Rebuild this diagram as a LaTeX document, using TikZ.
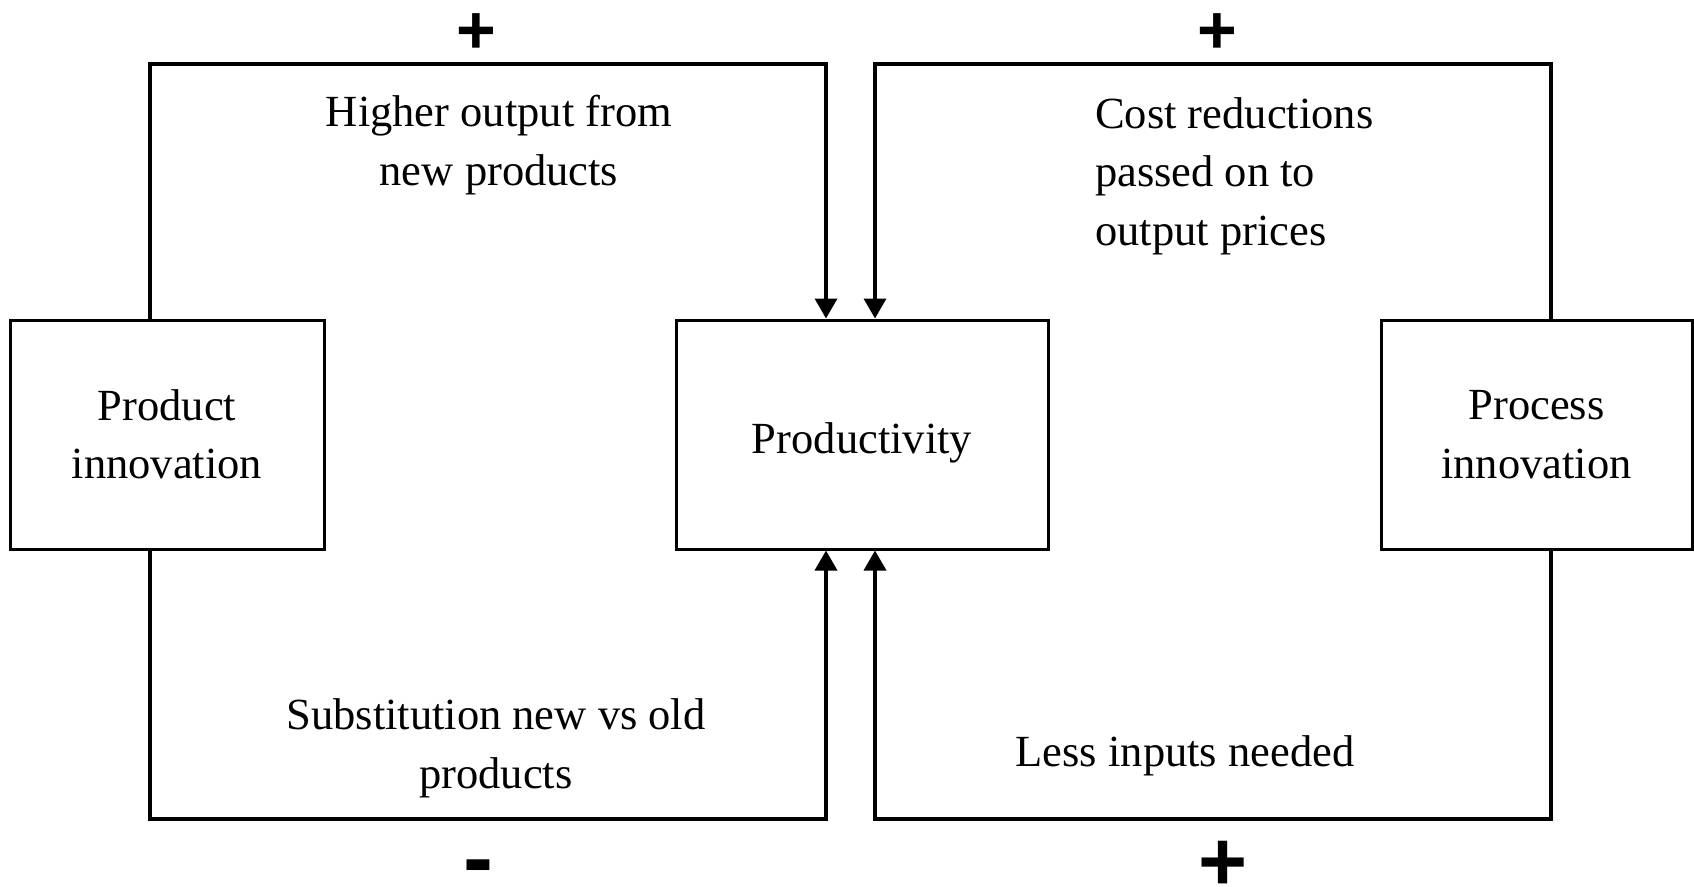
\documentclass[tikz,border=0pt]{standalone}
\usepackage{fontspec}
\setmainfont{Liberation Serif}
\newfontfamily\signfont{Liberation Sans}
\usetikzlibrary{arrows.meta}
\begin{document}
\begin{tikzpicture}[x=1pt,y=-1pt,
  box/.style={draw, line width=3pt, inner sep=0pt, align=center,
    font=\fontsize{44.5}{58.5}\selectfont},
  lbl/.style={inner sep=0pt, font=\fontsize{44.5}{58.5}\selectfont},
  link/.style={line width=3.6pt},
  arr/.style={link, -{Triangle[length=20pt,width=22pt]}},
  sign/.style={inner sep=0pt, font=\signfont\bfseries\fontsize{#1}{#1}\selectfont}]
\useasboundingbox (0,0) rectangle (1694,886);

\node[box, minimum width=314pt, minimum height=229pt] (prod) at (167,434.5) {Product\\innovation};
\node[box, minimum width=372pt, minimum height=229pt, text depth=0pt] (pr) at (862,434.5) {\raisebox{-8pt}{Productivity}};
\node[box, minimum width=311pt, minimum height=229pt] (proc) at (1536.5,434.5) {Process\\innovation};

\coordinate (a1) at (150,64);
\coordinate (a2) at (826,64);
\coordinate (b1) at (1551,64);
\coordinate (b2) at (875,64);
\coordinate (c1) at (150,819);
\coordinate (c2) at (826,819);
\coordinate (d1) at (1551,819);
\coordinate (d2) at (875,819);

\draw[arr] (prod.north -| a1) -- (a1) -- (a2) -- (a2 |- pr.north);
\draw[arr] (proc.north -| b1) -- (b1) -- (b2) -- (b2 |- pr.north);
\draw[arr] (prod.south -| c1) -- (c1) -- (c2) -- (c2 |- pr.south);
\draw[arr] (proc.south -| d1) -- (d1) -- (d2) -- (d2 |- pr.south);

\node[lbl, align=center, anchor=base] (t1) at (499,185) {Higher output from\\new products};
\node[lbl, align=left, anchor=base west] (t2) at (1095,245) {Cost reductions\\passed on to\\output prices};
\node[lbl, align=center, anchor=base] (t3) at (496,788) {Substitution new vs old\\products};
\node[lbl, align=center, anchor=base] (t4) at (1185,766) {Less inputs needed};

\node[sign=68] (s1) at (476,34) {+};
\node[sign=68] (s2) at (1217,34) {+};
\node[sign=90] (s3) at (478,874) {-};
\node[sign=84] (s4) at (1223,866) {+};
\end{tikzpicture}
\end{document}
